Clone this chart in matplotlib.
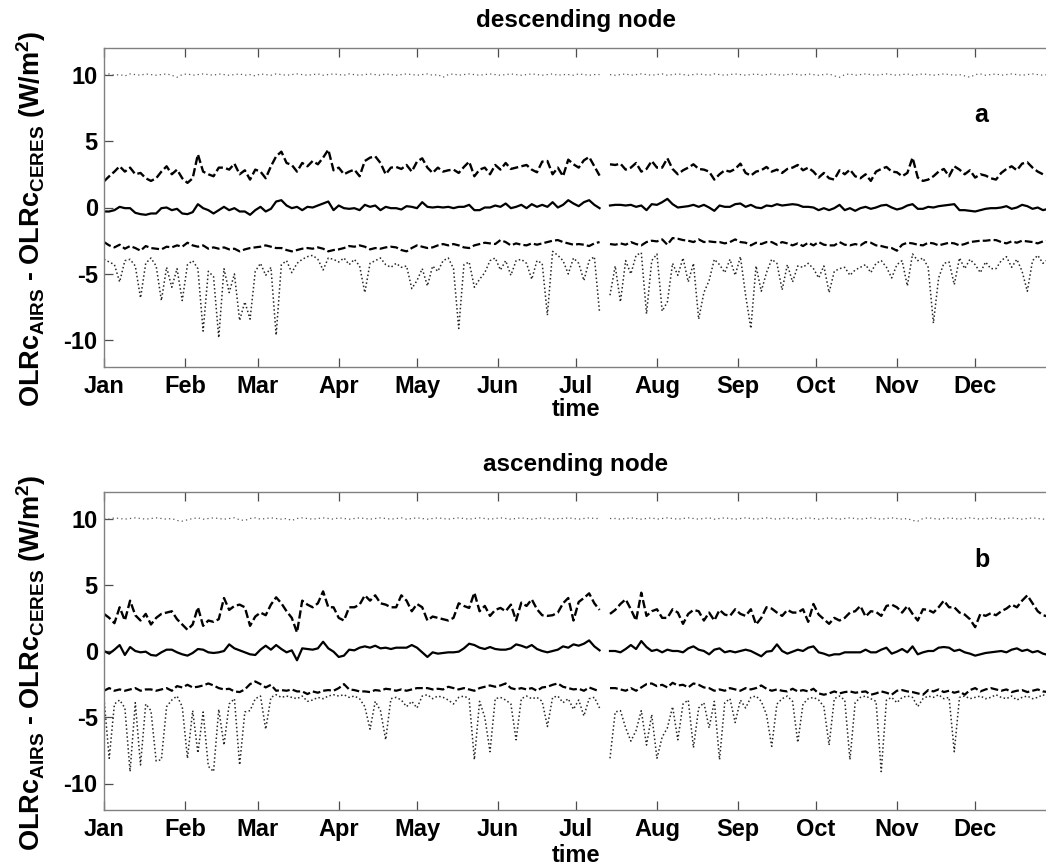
import numpy as np
import matplotlib
matplotlib.use("Agg")
import matplotlib.pyplot as plt

nan = float("nan")

plt.rcParams["font.family"] = ["Liberation Sans", "DejaVu Sans"]
plt.rcParams["font.weight"] = "bold"
plt.rcParams["axes.unicode_minus"] = False
plt.rcParams["mathtext.fontset"] = "custom"
plt.rcParams["mathtext.rm"] = "Liberation Sans:bold"
plt.rcParams["mathtext.it"] = "Liberation Sans:bold"
plt.rcParams["mathtext.bf"] = "Liberation Sans:bold"

# every second day of the year (day-of-year)
days = np.arange(1, 366, 2)
month_starts = [1, 32, 60, 91, 121, 152, 182, 213, 244, 274, 305, 335]
month_labels = ["Jan", "Feb", "Mar", "Apr", "May", "Jun", "Jul", "Aug",
                "Sep", "Oct", "Nov", "Dec"]
yticks = [-10, -5, 0, 5, 10]

# ---------------- descending node (a) ----------------
a_top = [10.0, 10.05, 9.95, 10.0, 9.9, 10.05, 10.0, 9.95, 10.05, 10.0,
         9.95, 10.0, 10.05, 9.95, 9.8, 10.0, 10.05, 9.95, 10.0, 10.05,
         10.0, 9.95, 10.05, 10.0, 9.95, 10.0, 10.05, 9.95, 10.0, 9.9,
         10.05, 10.0, 9.95, 10.05, 10.0, 9.95, 10.0, 10.05, 10.0, 9.95,
         10.0, 10.05, 9.95, 10.0, 10.05, 10.0, 9.95, 10.05, 10.0, 9.95,
         10.0, 10.05, 10.0, 9.95, 10.05, 10.0, 9.95, 10.0, 10.05, 10.0,
         9.95, 10.0, 10.05, 9.95, 10.0, 9.8, 10.0, 10.05, 9.95, 10.0,
         10.05, 10.0, 9.95, 10.0, 10.05, 10.0, 9.95, 10.0, 10.05, 10.0,
         9.95, 10.0, 10.05, 10.0, 9.95, 10.0, 10.05, 9.95, 10.0, 10.0,
         9.95, 10.05, 10.0, 9.95, 10.0, 10.0, nan, 10.0, 9.95, 10.0,
         10.05, 9.95, 10.0, 10.05, 10.0, 9.95, 10.0, 10.05, 9.95, 10.0,
         10.05, 10.0, 9.95, 10.0, 10.05, 10.0, 9.95, 10.05, 10.0, 9.95,
         10.0, 10.05, 10.0, 9.95, 10.0, 10.05, 9.95, 10.0, 10.05, 10.0,
         9.95, 10.0, 10.05, 10.0, 9.95, 10.05, 10.0, 9.95, 10.0, 10.05,
         9.9, 9.8, 10.0, 10.05, 9.95, 10.0, 10.05, 10.0, 9.95, 10.0,
         10.05, 10.0, 9.95, 10.0, 10.05, 9.95, 10.0, 10.05, 10.0, 9.95,
         10.0, 10.05, 10.0, 9.95, 10.0, 9.9, 9.8, 10.0, 10.05, 9.95,
         10.0, 10.05, 9.95, 10.0, 10.05, 10.0, 9.95, 10.0, 10.05, 10.0,
         9.95, 10.0, 10.05]

a_up = [1.97, 2.35, 2.7, 3.1, 2.7, 3.0, 2.5, 2.6, 2.2, 2.0,
        2.2, 2.7, 3.1, 2.5, 2.85, 2.2, 1.85, 2.2, 4.0, 2.7,
        2.5, 2.35, 3.0, 3.0, 2.85, 3.3, 2.5, 2.8, 2.1, 2.85,
        2.7, 2.2, 3.1, 3.85, 4.2, 3.35, 3.2, 2.7, 3.35, 3.1,
        3.5, 3.25, 3.75, 4.35,
        2.8, 3.0, 2.5, 2.7, 2.85, 2.35, 3.5, 3.75, 3.85, 3.35,
        2.5, 3.0, 3.05, 2.9, 3.2, 2.7, 3.45, 3.7, 3.0, 2.6,
        3.0, 2.7, 2.8, 2.85, 2.6, 3.05, 3.45, 2.35, 2.85, 3.0,
        2.5, 3.2, 2.85, 3.35, 2.9, 3.0, 3.1, 3.2, 2.85, 2.65,
        3.45, 3.5,
        2.5, 3.0, 2.35, 3.6, 3.25, 3.0, 3.55, 3.8, 3.1, 2.4,
        nan, 3.25,
        3.2, 3.3, 2.85, 3.0, 3.35, 2.7, 2.9, 3.5, 3.0, 3.0,
        3.7, 2.9, 2.5, 2.8, 3.0, 3.25, 2.9, 2.85, 2.7, 2.1,
        2.5, 2.8, 2.7, 2.9, 3.3, 2.6, 2.4, 2.7, 2.8, 3.05,
        2.7, 2.85, 2.6, 2.9, 3.0, 3.2, 2.8, 3.0, 2.7, 2.25,
        2.6, 2.2, 2.1, 2.8, 2.5, 2.85, 2.35, 2.2, 2.5, 2.0,
        2.7, 2.9, 3.05, 2.7, 2.65, 2.35, 2.6, 3.75, 2.25, 2.0,
        2.1, 2.35, 2.7, 2.9, 2.35, 3.1, 2.85, 2.5, 2.8, 2.25,
        2.5, 2.4, 2.2, 2.1,
        2.6, 2.9, 3.1, 2.8, 3.3, 3.4, 3.0, 2.7, 2.5, 2.4, 2.3]

a_mid = [-0.3, -0.3, -0.2, 0.05, -0.05, -0.05, -0.4, -0.5, -0.55, -0.45,
         -0.45, -0.05, 0.0, -0.2, -0.1, -0.45, -0.5, -0.35, 0.25, -0.05,
         -0.2, -0.45, -0.2, 0.05, -0.2, -0.05, -0.3, -0.3, -0.55, -0.2,
         0.05, -0.3, -0.1, 0.45, 0.55, 0.15, -0.05, 0.05, -0.2, 0.05,
         0.0, 0.15, 0.3, 0.45,
         -0.2, 0.15, -0.05, -0.1, -0.05, -0.2, 0.2, 0.05, 0.15, -0.2,
         0.05, -0.05, -0.05, -0.15, 0.1, 0.05, -0.05, 0.4, 0.05, 0.0,
         0.05, 0.0, 0.05, -0.05, 0.05, 0.05, 0.2, -0.2, -0.2, 0.0,
         0.0, 0.15, 0.05, 0.3, -0.05, 0.05, 0.2, -0.05, 0.25, 0.05,
         0.2, 0.05,
         0.4, 0.0, 0.2, 0.55, 0.3, 0.1, 0.4, 0.55, 0.2, -0.05,
         nan, 0.15,
         0.2, 0.2, 0.15, 0.2, 0.05, 0.15, -0.2, 0.25, 0.2, 0.4,
         0.65, 0.25, 0.0, 0.05, 0.1, 0.2, 0.05, 0.2, 0.0, -0.25,
         0.15, 0.05, 0.05, 0.25, 0.3, 0.05, 0.2, 0.0, -0.05, 0.15,
         0.1, 0.25, 0.15, 0.2, 0.25, 0.2, 0.05, 0.05, 0.0, -0.2,
         -0.05, -0.2, -0.05, 0.2, -0.2, -0.05, -0.25, -0.05, 0.05, -0.1,
         0.0, 0.15, 0.2, 0.0, -0.15, -0.05, 0.15, 0.25, -0.1, -0.1,
         0.05, 0.0, 0.1, 0.15, 0.2, 0.25, -0.2, -0.2, -0.25, -0.3,
         -0.2, -0.1, -0.05, -0.05,
         0.0, 0.1, -0.1, 0.0, 0.2, 0.1, -0.1, 0.0, -0.2, -0.1, -0.2]

a_lo = [-2.6, -2.85, -3.0, -2.8, -3.1, -2.9, -3.05, -3.25, -2.9, -3.05,
        -3.1, -3.15, -2.95, -3.0, -2.85, -2.95, -2.65, -2.85, -2.95, -2.85,
        -3.1, -3.0, -3.1, -3.0, -3.15, -3.1, -3.3, -3.15, -3.05, -3.0,
        -2.95, -2.85, -2.95, -3.05, -3.05, -3.2, -3.3, -3.2, -3.1, -3.05,
        -3.1, -3.0, -3.1, -3.3,
        -3.2, -3.15, -3.05, -2.9, -2.95, -2.85, -2.95, -3.15, -3.05, -3.1,
        -3.0, -2.95, -3.0, -3.2, -3.3, -3.05, -2.85, -2.95, -3.05, -3.0,
        -2.85, -2.75, -2.85, -2.75, -2.85, -3.0, -3.05, -2.85, -2.75, -2.65,
        -2.7, -2.75, -2.45, -2.6, -2.85, -2.7, -2.8, -2.85, -2.7, -2.8,
        -2.7, -2.6,
        -2.5, -2.45, -2.6, -2.7, -2.8, -2.75, -2.8, -2.9, -2.7, -2.6,
        nan, -2.75,
        -2.8, -2.7, -2.8, -2.6, -2.75, -2.85, -2.6, -2.5, -2.55, -2.4,
        -2.8, -2.3, -2.35, -2.45, -2.5, -2.6, -2.4, -2.6, -2.55, -2.6,
        -2.6, -2.7, -2.6, -2.4, -2.6, -2.65, -2.85, -2.65, -2.75, -2.6,
        -2.6, -2.8, -2.6, -2.7, -2.85, -2.7, -2.9, -2.65, -2.85, -2.6,
        -2.8, -2.85, -2.85, -2.6, -2.8, -2.85, -2.75, -2.85, -2.6, -2.65,
        -2.85, -2.9, -3.0, -3.05, -3.25, -2.8, -2.65, -2.7, -2.8, -2.85,
        -2.65, -2.7, -2.85, -2.75, -2.65, -2.7, -2.85, -2.75, -2.6, -2.55,
        -2.5, -2.5, -2.45, -2.45,
        -2.6, -2.7, -2.55, -2.65, -2.5, -2.55, -2.6, -2.7, -2.55, -2.5, -2.6]

a_dip = [-3.9, -4.1, -4.3, -5.6, -4.0, -3.9, -4.4, -6.8, -4.2, -3.8,
         -4.4, -7.0, -4.5, -6.0, -4.6, -7.0, -4.3, -4.0, -4.6, -9.3,
         -4.8, -5.2, -9.8, -4.6, -6.4, -5.0, -8.5, -7.1, -8.4, -4.8,
         -4.2, -5.1, -4.5, -9.6, -4.3, -4.0, -4.9, -4.2, -3.9, -3.7,
         -3.6, -3.9, -4.7, -3.8,
         -3.9, -4.1, -3.8, -4.3, -3.9, -4.4, -6.4, -4.2, -4.0, -3.8,
         -4.3, -4.5, -4.2, -4.5, -4.4, -6.1, -5.5, -4.6, -5.9, -4.4,
         -4.8, -4.0, -3.8, -4.6, -9.1, -4.3, -4.1, -6.0, -5.4, -4.9,
         -4.0, -3.8, -4.7, -4.0, -5.1, -4.0, -3.9, -4.2, -5.4, -4.0,
         -4.2, -8.1,
         -3.3, -3.6, -4.0, -5.0, -3.8, -4.2, -5.5, -4.0, -3.7, -7.9,
         nan, -6.6,
         -4.4, -7.1, -4.0, -5.0, -3.6, -3.4, -8.0, -4.0, -3.5, -7.8,
         -7.1, -4.2, -5.1, -3.8, -5.6, -4.2, -8.4, -6.4, -5.5, -3.9,
         -4.3, -4.9, -3.9, -5.1, -3.7, -6.6, -9.1, -4.4, -6.3, -4.9,
         -3.9, -4.2, -6.2, -4.3, -5.6, -4.4, -4.5, -4.2, -4.6, -5.3,
         -4.4, -6.4, -4.8, -4.6, -4.5, -5.1, -4.7, -4.5, -4.3, -4.9,
         -4.2, -4.0, -4.5, -5.3, -4.3, -4.0, -5.9, -3.5, -4.0, -3.8,
         -4.5, -8.7, -5.3, -4.2, -4.1, -5.8, -3.8, -4.6, -3.9, -4.3,
         -4.9, -4.1, -4.6, -4.6,
         -4.0, -3.7, -4.5, -3.9, -4.8, -6.3, -4.0, -3.6, -4.2, -3.9, -4.0]

# ---------------- ascending node (b) ----------------
b_top = [10.0, 9.95, 10.05, 10.0, 9.95, 10.0, 10.05, 10.0, 9.95, 10.0,
         10.05, 10.0, 9.95, 10.0, 9.85, 9.8, 9.9, 10.0, 10.05, 9.95,
         10.0, 10.05, 10.0, 9.95, 10.0, 10.05, 9.9, 9.85, 10.0, 10.05,
         9.95, 10.0, 10.05, 10.0, 9.95, 10.0, 9.85, 10.0, 10.05, 10.0,
         9.95, 10.0, 10.05, 10.0, 9.95, 10.05, 10.0, 9.95, 10.0, 10.05,
         10.0, 9.95, 10.0, 10.05, 10.0, 9.95, 10.0, 10.05, 9.95, 10.0,
         10.05, 10.0, 9.95, 10.0, 10.05, 10.0, 9.95, 10.0, 10.05, 10.0,
         9.95, 10.0, 10.05, 10.0, 9.95, 10.0, 10.05, 10.0, 9.95, 10.0,
         10.05, 10.0, 9.95, 10.0, 10.05, 10.0, 9.95, 10.0, 10.0, 10.05,
         10.0, 9.95, 10.0, 10.05, 10.0, 10.0, nan, 10.0, 10.0, 9.95,
         10.0, 10.05, 10.0, 9.95, 10.0, 10.05, 9.95, 10.0, 10.05, 10.0,
         9.95, 10.0, 10.05, 10.0, 9.95, 10.0, 10.05, 9.95, 10.0, 10.05,
         10.0, 9.95, 10.0, 10.05, 10.0, 9.95, 10.0, 10.05, 10.0, 9.95,
         10.0, 10.05, 10.0, 9.95, 10.0, 10.05, 10.0, 9.95, 10.0, 10.05,
         10.0, 9.95, 10.0, 10.05, 10.0, 9.95, 10.0, 10.05, 10.0, 9.95,
         10.0, 10.05, 10.0, 9.95, 10.0, 9.85, 9.8, 10.0, 10.05, 10.0,
         9.95, 10.0, 10.05, 10.0, 9.95, 10.0, 10.05, 10.0, 9.95, 10.0,
         10.05, 10.0, 9.95, 10.0, 10.05, 10.0, 9.95, 10.0, 10.05, 10.0,
         9.95, 10.0, 10.05]

b_up = [2.8, 2.5, 2.1, 3.3, 2.3, 3.8, 2.7, 2.3, 2.8, 2.0,
        2.5, 2.8, 2.9, 3.0, 2.4, 2.0, 1.6, 2.0, 3.3, 1.9,
        2.3, 2.2, 2.4, 4.0, 3.1, 3.4, 3.5, 3.3, 1.9, 2.6,
        2.9, 2.7, 3.5, 4.05, 3.6, 3.0, 2.5, 1.4, 3.8, 3.5,
        3.3, 3.6, 4.5, 3.3,
        3.3, 2.5, 2.3, 3.3, 3.3, 3.5, 4.2, 3.8, 4.2, 3.6,
        3.5, 3.3, 3.3, 4.2, 3.8, 3.0, 3.55, 3.3, 2.3, 2.6,
        2.5, 2.4, 2.3, 2.5, 3.6, 3.4, 3.25, 4.4, 3.0, 3.4,
        2.65, 3.1, 3.25, 3.0, 3.5, 2.3, 3.65, 3.4, 3.9, 3.15,
        2.7, 2.65,
        2.7, 2.9, 3.6, 4.0, 2.3, 3.7, 4.0, 4.35, 3.6, 3.1,
        nan, 2.8,
        3.1, 3.55, 3.9, 3.15, 2.3, 4.4, 2.65, 3.0, 3.15, 2.5,
        2.5, 3.15, 2.9, 2.05, 2.8, 3.1, 3.0, 2.3, 2.9, 2.3,
        3.1, 2.75, 2.65, 3.15, 2.8, 2.65, 3.15, 2.0, 2.5, 3.3,
        3.2, 2.9, 2.65, 3.1, 2.9, 2.9, 3.15, 2.2, 3.55, 2.75,
        2.4, 2.05, 2.5, 2.3, 2.5, 2.9, 3.0, 3.4, 2.6, 3.0,
        2.95, 2.65, 3.4, 3.5, 3.3, 2.9, 3.4, 2.8, 2.3, 3.15,
        3.1, 2.9, 3.3, 3.8, 3.3, 3.3, 2.9, 2.75, 2.4, 1.8,
        2.8, 2.65, 2.85, 2.7,
        3.0, 3.2, 3.5, 3.3, 3.8, 4.2, 3.6, 3.0, 2.7, 2.6, 2.8]

b_mid = [0.0, -0.2, 0.1, 0.45, -0.3, 0.3, 0.0, -0.1, -0.05, -0.3,
         -0.35, -0.1, 0.1, 0.1, -0.1, -0.25, -0.35, -0.15, 0.15, 0.1,
         -0.1, -0.15, -0.1, 0.0, 0.5, 0.2, 0.05, -0.1, -0.25, -0.3,
         0.1, 0.4, 0.1, 0.45, 0.15, -0.1, 0.05, -0.7, 0.2, 0.15,
         0.1, 0.2, 0.7, 0.2,
         -0.05, -0.45, -0.35, 0.1, 0.05, 0.25, 0.35, 0.25, 0.4, 0.2,
         0.25, 0.15, 0.25, 0.25, 0.25, 0.45, 0.25, -0.1, -0.45, -0.1,
         -0.2, -0.15, -0.1, -0.1, -0.05, 0.2, 0.55, 0.45, 0.25, 0.15,
         0.3, 0.15, 0.1, 0.1, 0.2, 0.5, 0.4, 0.25, 0.45, 0.15,
         0.0, -0.1,
         0.0, 0.1, 0.35, 0.25, 0.5, 0.4, 0.55, 0.8, 0.35, 0.05,
         nan, 0.0,
         0.0, -0.1, 0.15, 0.45, 0.15, 0.75, 0.3, 0.0, 0.1, -0.1,
         0.1, 0.0, 0.0, -0.1, 0.2, 0.35, 0.1, 0.0, -0.25, 0.1,
         0.2, -0.1, 0.0, -0.1, 0.0, 0.1, 0.0, -0.2, -0.4, -0.05,
         0.0, 0.5, 0.0, -0.2, -0.05, 0.1, 0.0, 0.25, 0.35, -0.1,
         -0.2, -0.35, -0.25, -0.25, -0.1, -0.1, -0.1, -0.1, 0.1, -0.1,
         -0.1, 0.1, 0.25, -0.2, -0.05, 0.15, -0.1, 0.35, -0.25, -0.1,
         0.0, 0.0, 0.25, 0.3, 0.25, 0.0, 0.1, -0.1, -0.2, -0.35,
         -0.25, -0.15, -0.1, -0.05,
         0.0, -0.1, 0.1, 0.2, 0.0, 0.1, -0.1, 0.0, -0.2, -0.3, -0.2]

b_lo = [-3.0, -2.8, -3.0, -2.9, -3.0, -2.9, -2.8, -3.0, -2.9, -2.9,
        -3.0, -2.9, -2.8, -3.0, -2.65, -2.75, -2.55, -2.75, -2.7, -2.6,
        -2.45, -2.6, -2.8, -2.9, -2.85, -3.05, -3.1, -2.9, -2.5, -2.3,
        -2.5, -2.75, -2.55, -3.0, -2.95, -3.0, -2.9, -3.05, -3.05, -3.25,
        -3.05, -3.15, -3.0, -2.95,
        -3.0, -2.8, -2.5, -2.9, -2.95, -3.05, -3.05, -3.1, -2.95, -3.0,
        -2.85, -2.9, -3.0, -2.9, -3.0, -2.9, -2.8, -2.8, -2.8, -2.9,
        -2.85, -2.9, -2.7, -2.8, -2.9, -2.8, -2.9, -3.0, -2.8, -2.7,
        -2.6, -2.7, -2.6, -2.45, -2.8, -2.9, -2.8, -2.9, -2.8, -3.0,
        -2.75, -2.7,
        -2.55, -2.45, -2.7, -2.8, -2.9, -2.85, -3.0, -2.75, -2.9, -3.05,
        nan, -2.8,
        -2.8, -2.9, -3.0, -2.8, -3.0, -2.75, -2.5, -2.45, -2.65, -2.55,
        -2.75, -2.4, -2.6, -2.55, -2.75, -2.45, -2.55, -2.75, -2.8, -3.0,
        -2.9, -3.0, -2.8, -2.9, -3.0, -2.8, -2.9, -2.8, -2.6, -2.85,
        -3.0, -2.9, -3.0, -3.05, -2.85, -3.05, -2.95, -3.05, -2.85, -3.2,
        -3.3, -3.2, -3.05, -3.2, -3.1, -3.05, -3.15, -3.1, -3.05, -3.3,
        -3.2, -3.05, -3.15, -3.3, -3.0, -2.95, -3.05, -3.1, -3.2, -3.3,
        -2.95, -3.05, -2.9, -3.1, -3.0, -3.15, -3.05, -3.3, -2.95, -2.8,
        -3.05, -2.9, -2.8, -2.9,
        -3.0, -2.9, -3.1, -3.0, -2.95, -3.1, -3.0, -2.9, -3.05, -3.1, -3.0]

b_dip = [-3.6, -8.1, -4.0, -3.7, -4.3, -9.1, -3.9, -8.6, -4.0, -4.5,
         -8.3, -8.2, -4.2, -3.7, -3.4, -4.2, -8.1, -4.5, -7.7, -4.6,
         -8.7, -9.1, -4.4, -7.1, -4.0, -3.6, -8.6, -4.6, -4.5, -3.6,
         -3.4, -5.9, -3.5, -3.3, -3.5, -3.4, -3.5, -3.6, -3.4, -3.8,
         -3.7, -3.5, -3.6, -3.4,
         -3.3, -3.4, -3.3, -3.5, -3.4, -3.6, -4.2, -5.9, -3.8, -4.5,
         -6.7, -3.6, -3.5, -3.7, -4.2, -3.8, -4.3, -3.4, -3.3, -3.6,
         -3.4, -3.5, -3.7, -4.0, -3.5, -3.4, -3.6, -8.2, -3.8, -5.0,
         -7.6, -3.6, -3.5, -3.7, -4.0, -6.7, -3.6, -3.4, -3.6, -3.5,
         -3.8, -5.7,
         -3.5, -3.4, -3.9, -3.6, -4.4, -3.7, -4.9, -3.6, -3.5, -4.3,
         nan, -8.1,
         -4.6, -4.5, -5.8, -6.8, -6.0, -4.5, -7.1, -4.8, -8.1, -6.5,
         -5.8, -4.2, -6.7, -4.0, -3.7, -7.3, -4.3, -3.9, -5.8, -3.8,
         -8.2, -3.9, -3.6, -5.4, -3.7, -4.3, -3.5, -3.4, -3.8, -4.8,
         -7.2, -4.0, -3.6, -3.4, -3.8, -6.9, -4.0, -3.6, -3.5, -3.7,
         -4.2, -7.1, -3.6, -3.4, -3.7, -8.2, -3.9, -3.5, -3.4, -3.6,
         -3.8, -9.1, -3.7, -3.5, -3.9, -3.5, -3.4, -3.5, -4.2, -3.6,
         -3.4, -3.5, -3.3, -3.6, -3.5, -7.6, -3.5, -3.4, -3.6, -3.5,
         -3.4, -3.6, -3.5, -3.3,
         -3.5, -3.6, -3.4, -3.7, -3.5, -3.4, -3.6, -3.5, -3.3, -3.5, -3.4]

W, H = 1046, 867
fig = plt.figure(figsize=(W / 100, H / 100), dpi=100)

ax_left = 104 / W
ax_width = (1056 - 104) / W
ax_a = fig.add_axes([ax_left, 1 - 367 / H, ax_width, (367 - 48) / H])
ax_b = fig.add_axes([ax_left, 1 - 810 / H, ax_width, (810 - 492) / H])

panels = [
    (ax_a, a_top, a_up, a_mid, a_lo, a_dip),
    (ax_b, b_top, b_up, b_mid, b_lo, b_dip),
]

for ax, top, up, mid, lo, dip in panels:
    ax.plot(days, top, color="0.35", lw=0.9, linestyle=(0, (1, 2.5)))
    ax.plot(days, up, color="k", lw=1.7, linestyle=(0, (3.5, 1.4)))
    ax.plot(days, mid, color="k", lw=1.6, linestyle="-")
    ax.plot(days, lo, color="k", lw=1.6, linestyle=(0, (3.5, 1.4)))
    ax.plot(days, dip, color="0.15", lw=1.1, linestyle=(0, (1, 1.6)))
    ax.set_xlim(1, 366)
    ax.set_ylim(-12, 12)
    ax.set_xticks(month_starts)
    ax.set_xticklabels(month_labels)
    ax.set_yticks(yticks)
    ax.tick_params(direction="in", length=6.5, width=0.9, top=True,
                   right=True, labelsize=17, color="0.3")
    ax.tick_params(axis="x", pad=6)
    ax.tick_params(axis="y", pad=4.5)
    for sp in ax.spines.values():
        sp.set_color("0.5")
        sp.set_linewidth(1.0)
    for t in ax.get_xticklabels() + ax.get_yticklabels():
        t.set_fontweight("bold")

ylab = r"OLRc$_{AIRS}$ - OLRc$_{CERES}$ (W/m$^{2}$)"
fig.text(31 / W, 1 - 219 / H, ylab, rotation=90, ha="center", va="center",
         fontsize=19.5, fontweight="bold")
fig.text(31 / W, 1 - 663 / H, ylab, rotation=90, ha="center", va="center",
         fontsize=19.5, fontweight="bold")

fig.text(576 / W, 1 - 27 / H, "descending node", ha="center",
         va="baseline", fontsize=17.5, fontweight="bold")
fig.text(576 / W, 1 - 471 / H, "ascending node", ha="center",
         va="baseline", fontsize=17.5, fontweight="bold")
fig.text(576 / W, 1 - 409 / H, "time", ha="center", va="center",
         fontsize=17, fontweight="bold")
fig.text(576 / W, 1 - 855 / H, "time", ha="center", va="center",
         fontsize=17, fontweight="bold")
fig.text(981 / W, 1 - 122 / H, "a", ha="center", va="baseline",
         fontsize=18, fontweight="bold")
fig.text(982 / W, 1 - 567 / H, "b", ha="center", va="baseline",
         fontsize=18, fontweight="bold")

fig.savefig("out.png", dpi=100)
